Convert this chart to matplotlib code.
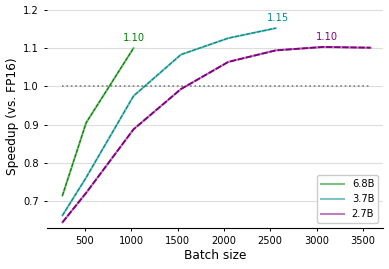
import matplotlib
matplotlib.use("Agg")
import matplotlib.pyplot as plt

# speedup vs FP16 as a function of batch size
bs_68 = [256, 512, 1024]
sp_68 = [0.715, 0.905, 1.10]
bs_37 = [256, 512, 1024, 1536, 2048, 2560]
sp_37 = [0.663, 0.762, 0.975, 1.083, 1.126, 1.152]
bs_27 = [256, 512, 1024, 1536, 2048, 2560, 3072, 3584]
sp_27 = [0.645, 0.722, 0.888, 0.993, 1.064, 1.094, 1.103, 1.101]

names = ["6.8B", "3.7B", "2.7B"]
colors = ["green", "darkcyan", "purple"]
peak_labels = ["1.10", "1.15", "1.10"]
peak_pos = [(1030, 1.126), (2580, 1.179), (3110, 1.128)]

fig, ax = plt.subplots(figsize=(3.89, 2.69), dpi=100)
fig.subplots_adjust(left=0.121, right=0.985, top=0.985, bottom=0.152)

series = [(bs_68, sp_68), (bs_37, sp_37), (bs_27, sp_27)]
lws = [0.8, 0.9, 1.3]
for (x, y), name, c, w in zip(series, names, colors, lws):
    ax.plot(x, y, color=c, lw=1.5, alpha=0.5, label=name, zorder=3)
    ax.plot(x, y, color=c, lw=w, ls=(0, (3.5, 1.0)), zorder=4)

for lab, (px, py), c in zip(peak_labels, peak_pos, colors):
    ax.text(px, py, lab, color=c, fontsize=7.1, ha="center", va="center")

ax.plot([256, 3584], [1.0, 1.0], color="gray", ls=":", lw=1.2, zorder=2)

ax.set_xlim(90, 3720)
ax.set_ylim(0.63, 1.215)
ax.set_xticks([500, 1000, 1500, 2000, 2500, 3000, 3500])
ax.set_yticks([0.7, 0.8, 0.9, 1.0, 1.1, 1.2])
ax.yaxis.grid(True, color="#dddddd", lw=0.8)
ax.set_axisbelow(True)
for s in ["top", "right", "left"]:
    ax.spines[s].set_visible(False)
ax.tick_params(labelsize=7.1, length=2.5, width=0.7)
ax.set_xlabel("Batch size", fontsize=8.7, labelpad=2)
ax.set_ylabel("Speedup (vs. FP16)", fontsize=8.7, labelpad=3)
ax.legend(loc="lower right", fontsize=7.1, handlelength=2.3, framealpha=1)

fig.savefig("out.png", dpi=100)
